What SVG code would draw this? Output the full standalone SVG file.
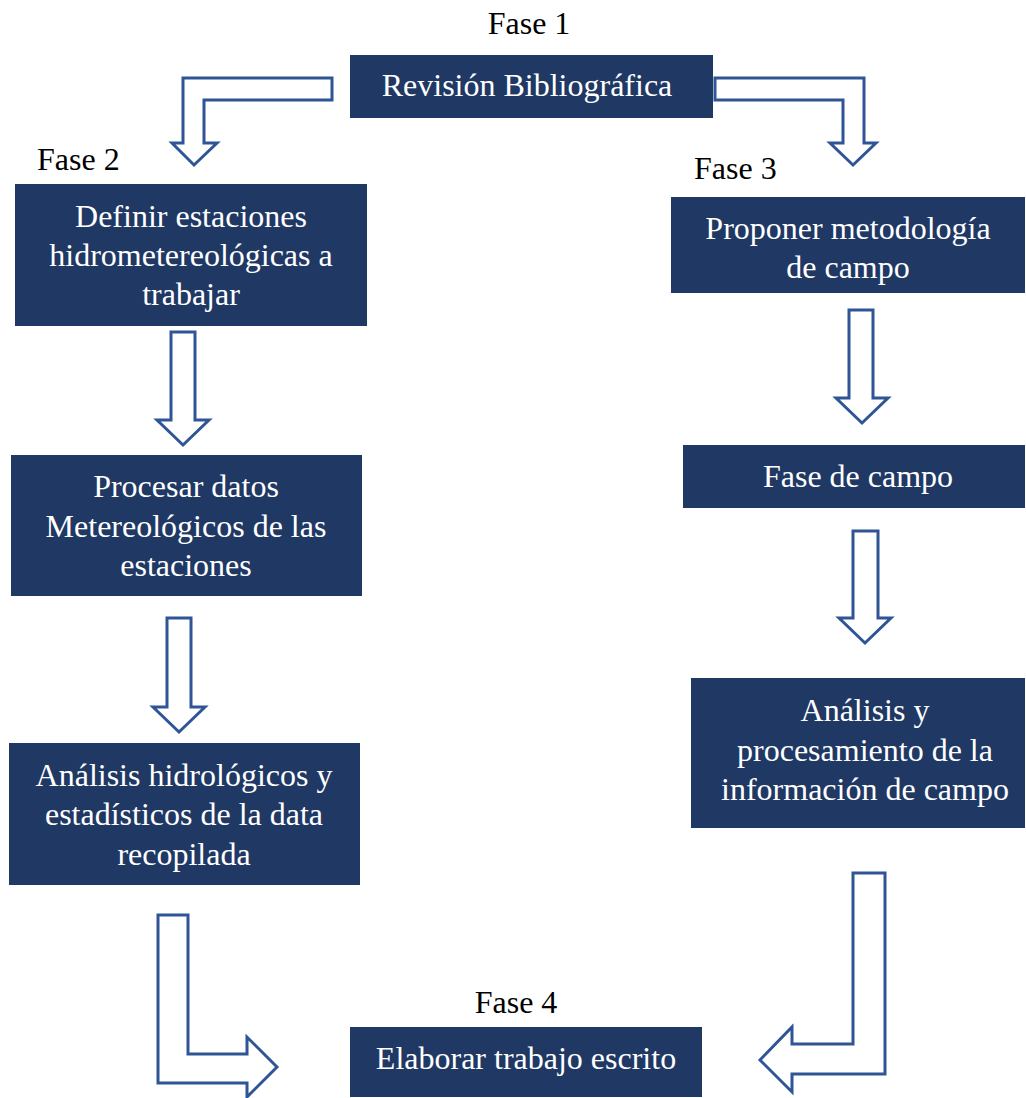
<svg xmlns="http://www.w3.org/2000/svg" width="1026" height="1098" viewBox="0 0 1026 1098">
<style>
.box{fill:#1F3864;}
.t{font-family:"Liberation Serif","Times New Roman",serif;font-size:32px;fill:#FFFFFF;text-anchor:middle;}
.lbl{font-family:"Liberation Serif","Times New Roman",serif;font-size:32px;fill:#000000;}
.arr{fill:#FFFFFF;stroke:#2F5597;stroke-width:3;stroke-linejoin:miter;}
</style>
<rect width="1026" height="1098" fill="#FFFFFF"/>
<g id="labels">
<text class="lbl" x="529" y="34" text-anchor="middle">Fase 1</text>
<text class="lbl" x="37" y="170">Fase 2</text>
<text class="lbl" x="694" y="179">Fase 3</text>
<text class="lbl" x="516" y="1013" text-anchor="middle">Fase 4</text>
</g>
<g id="connectors">
<path class="arr" d="M332,78 L183,78 L183,143 L172,143 L194,165 L217,143 L204,143 L204,100 L332,100 Z"/>
<path class="arr" d="M715,78 L864,78 L864,143 L876,143 L853,165 L830,143 L843,143 L843,100 L715,100 Z"/>
<path class="arr" d="M171,332 L195,332 L195,420 L209,420 L183,445 L157,420 L171,420 Z"/>
<path class="arr" d="M167,618 L191,618 L191,707 L205,707 L179,732 L153,707 L167,707 Z"/>
<path class="arr" d="M849,310 L873,310 L873,398 L888,398 L862,423 L836,398 L849,398 Z"/>
<path class="arr" d="M853,531 L878,531 L878,618 L891,618 L865,643 L839,618 L853,618 Z"/>
<path class="arr" d="M158,915 L188,915 L188,1054 L247,1054 L247,1037 L277,1067 L247,1097 L247,1083 L158,1083 Z"/>
<path class="arr" d="M853,873 L885,873 L885,1074 L792,1074 L792,1092 L760,1060 L792,1027 L792,1044 L853,1044 Z"/>
</g>
<g id="n1">
<rect class="box" x="350" y="55" width="363" height="63"/>
<text class="t" x="527" y="96">Revisión Bibliográfica</text>
</g>
<g id="n2">
<rect class="box" x="15" y="184" width="352" height="142"/>
<text class="t" x="191" y="227">Definir estaciones</text>
<text class="t" x="191" y="266">hidrometereológicas a</text>
<text class="t" x="191" y="305">trabajar</text>
</g>
<g id="n3">
<rect class="box" x="11" y="455" width="351" height="141"/>
<text class="t" x="186" y="497">Procesar datos</text>
<text class="t" x="186" y="537">Metereológicos de las</text>
<text class="t" x="186" y="576">estaciones</text>
</g>
<g id="n4">
<rect class="box" x="9" y="743" width="351" height="142"/>
<text class="t" x="184" y="786">Análisis hidrológicos y</text>
<text class="t" x="184" y="825">estadísticos de la data</text>
<text class="t" x="184" y="865">recopilada</text>
</g>
<g id="n5">
<rect class="box" x="671" y="197" width="354" height="96"/>
<text class="t" x="848" y="239">Proponer metodología</text>
<text class="t" x="848" y="278">de campo</text>
</g>
<g id="n6">
<rect class="box" x="683" y="445" width="342" height="63"/>
<text class="t" x="858" y="487">Fase de campo</text>
</g>
<g id="n7">
<rect class="box" x="691" y="678" width="334" height="150"/>
<text class="t" x="865" y="721">Análisis y</text>
<text class="t" x="865" y="761">procesamiento de la</text>
<text class="t" x="865" y="800">información de campo</text>
</g>
<g id="n8">
<rect class="box" x="350" y="1027" width="352" height="70"/>
<text class="t" x="526" y="1069">Elaborar trabajo escrito</text>
</g>
</svg>
